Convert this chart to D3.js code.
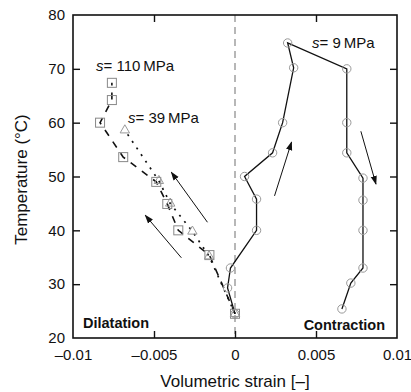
<!DOCTYPE html>
<html>
<head>
<meta charset="utf-8">
<script src="https://cdn.jsdelivr.net/npm/d3@7/dist/d3.min.js"></script>
<style>
  body { margin: 0; background: #fff; }
  text { font-family: 'Liberation Sans', Arial, sans-serif; fill: #111; }
</style>
</head>
<body>
<div id="app"></div>
<script>
'use strict'

// s = 9 MPa : heating up the left branch, cooling down the right one
const strain9 = [0, -0.00046, -0.00028, 0.00133, 0.00133, 0.00059, 0.00232, 0.00294, 0.00362, 0.00325,
	0.0069, 0.0069, 0.0069, 0.0079, 0.0079, 0.0079, 0.0079, 0.00715, 0.0066]
const temp9 = [24.5, 29.3, 33, 40, 45.8, 50, 54.4, 60, 70.2, 74.8,
	70, 60, 54.4, 49.7, 45.6, 40, 33, 30.2, 25.4]

// s = 110 MPa
const strain110 = [0, -0.00158, -0.0035, -0.00418, -0.00486, -0.0069, -0.00833, -0.0076, -0.0076]
const temp110 = [24.5, 35.4, 40, 44.9, 49, 53.6, 60, 64.2, 67.4]

// s = 39 MPa
const strain39 = [0, -0.0016, -0.00263, -0.0040, -0.0047, -0.0068]
const temp39 = [24.5, 35.2, 39.8, 45, 49.2, 58.6]

// arrows: [x0, y0, x1, y1] tail -> head
const arrows = [
	[-0.0017, 41.5, -0.00393, 50.8],
	[-0.00331, 34.9, -0.00554, 42.8],
	[0.00244, 46.4, 0.00349, 56.4],
	[0.00777, 58.4, 0.0087, 48.6]
]

const xTicks = [-0.01, -0.005, 0, 0.005, 0.01]
const xTickLabels = ['\u20130.01', '\u20130.005', '0', '0.005', '0.01']
const yTicks = [20, 30, 40, 50, 60, 70, 80]

const margin = { top: 15, right: 14, bottom: 54, left: 73 }
const W = 411, H = 392
const width = W - margin.left - margin.right
const height = H - margin.top - margin.bottom

const x = d3.scaleLinear().domain([-0.01, 0.01]).range([0, width])
const y = d3.scaleLinear().domain([20, 80]).range([height, 0])

const svg = d3.select('#app').append('svg')
	.attr('width', W)
	.attr('height', H)

svg.append('defs').append('marker')
	.attr('id', 'head')
	.attr('viewBox', '0 0 10 10')
	.attr('refX', 9).attr('refY', 5)
	.attr('markerWidth', 9).attr('markerHeight', 9)
	.attr('markerUnits', 'userSpaceOnUse')
	.attr('orient', 'auto')
	.append('path')
	.attr('d', 'M0,1.5 L10,5 L0,8.5 Z')
	.attr('fill', '#111')

const g = svg.append('g')
	.attr('transform', `translate(${margin.left},${margin.top})`)

// zero line
g.append('line')
	.attr('x1', x(0)).attr('x2', x(0))
	.attr('y1', 0).attr('y2', height)
	.attr('stroke', '#999')
	.attr('stroke-width', 1.4)
	.attr('stroke-dasharray', '7,5')

// axes, ticks pointing inwards
const xAxis = g.append('g')
	.attr('transform', `translate(0,${height})`)
	.call(d3.axisBottom(x).tickValues(xTicks).tickFormat((d, i) => xTickLabels[i])
		.tickSize(-7).tickPadding(11))
const yAxis = g.append('g')
	.call(d3.axisLeft(y).tickValues(yTicks).tickSize(-7).tickPadding(8))
g.append('g')
	.call(d3.axisTop(x).tickValues([-0.005, 0.005]).tickFormat('').tickSize(-7))
g.append('g')
	.attr('transform', `translate(${width},0)`)
	.call(d3.axisRight(y).tickValues([30, 40, 50, 60, 70]).tickFormat('').tickSize(-7))

g.selectAll('.domain').remove()
g.selectAll('.tick line').attr('stroke', '#111').attr('stroke-width', 1.4)
g.selectAll('.tick text').style('font-size', '15px').attr('fill', '#111')
yAxis.selectAll('.tick').filter(d => d === 20 || d === 80).select('line').remove()
xAxis.selectAll('.tick').filter(d => d === -0.01 || d === 0.01).select('line').remove()

g.append('rect')
	.attr('width', width).attr('height', height)
	.attr('fill', 'none')
	.attr('stroke', '#111')
	.attr('stroke-width', 1.6)

// series
const line = d3.line().x(d => x(d[0])).y(d => y(d[1]))
const pts9 = d3.zip(strain9, temp9)
const pts110 = d3.zip(strain110, temp110)
const pts39 = d3.zip(strain39, temp39)

g.append('path').datum(pts39)
	.attr('d', line).attr('fill', 'none')
	.attr('stroke', '#111').attr('stroke-width', 1.7)
	.attr('stroke-dasharray', '2,6')
g.append('path').datum(pts110)
	.attr('d', line).attr('fill', 'none')
	.attr('stroke', '#111').attr('stroke-width', 1.6)
	.attr('stroke-dasharray', '7,7')
g.append('path').datum(pts9)
	.attr('d', line).attr('fill', 'none')
	.attr('stroke', '#111').attr('stroke-width', 1.3)

g.selectAll('.circ').data(pts9).enter().append('circle')
	.attr('class', 'circ')
	.attr('cx', d => x(d[0])).attr('cy', d => y(d[1]))
	.attr('r', 4.2)
	.attr('fill', 'none').attr('stroke', '#999').attr('stroke-width', 1)

g.selectAll('.sq').data(pts110).enter().append('rect')
	.attr('class', 'sq')
	.attr('x', d => x(d[0]) - 4.5).attr('y', d => y(d[1]) - 4.5)
	.attr('width', 9).attr('height', 9)
	.attr('fill', 'none').attr('stroke', '#888').attr('stroke-width', 1)

const tri = d3.symbol().type(d3.symbolTriangle).size(38)
g.selectAll('.tri').data(pts39).enter().append('path')
	.attr('class', 'tri')
	.attr('transform', d => `translate(${x(d[0])},${y(d[1])})`)
	.attr('d', tri)
	.attr('fill', 'none').attr('stroke', '#999').attr('stroke-width', 1)

// arrows
g.selectAll('.arrow').data(arrows).enter().append('line')
	.attr('class', 'arrow')
	.attr('x1', d => x(d[0])).attr('y1', d => y(d[1]))
	.attr('x2', d => x(d[2])).attr('y2', d => y(d[3]))
	.attr('stroke', '#111').attr('stroke-width', 1)
	.attr('marker-end', 'url(#head)')

// labels
const label = (px, py, val) => {
	const t = g.append('text')
		.attr('x', px).attr('y', py)
		.style('font-size', '15px')
	t.append('tspan').style('font-style', 'italic').text('s')
	t.append('tspan').text(`= ${val}\u2009MPa`)
}
label(23, 56, 110)
label(55, 108, 39)
label(239, 33, 9)

g.append('text')
	.attr('x', 10).attr('y', height - 10)
	.style('font-size', '14.5px').style('font-weight', 'bold')
	.text('Dilatation')
g.append('text')
	.attr('x', width - 12).attr('y', height - 8)
	.attr('text-anchor', 'end')
	.style('font-size', '14.5px').style('font-weight', 'bold')
	.text('Contraction')

svg.append('text')
	.attr('x', margin.left + width / 2).attr('y', 387)
	.attr('text-anchor', 'middle')
	.style('font-size', '17px')
	.text('Volumetric strain [\u2013]')
svg.append('text')
	.attr('transform', `translate(27,${margin.top + height / 2 + 3}) rotate(-90)`)
	.attr('text-anchor', 'middle')
	.style('font-size', '17px')
	.text('Temperature (\u00b0C)')
</script>
</body>
</html>
